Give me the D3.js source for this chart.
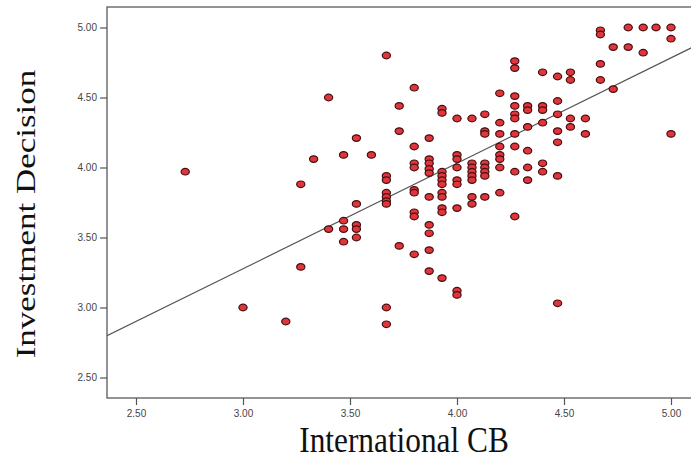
<!DOCTYPE html>
<html>
<head>
<meta charset="utf-8">
<script src="https://cdn.jsdelivr.net/npm/d3@7"></script>
<style>
  html, body { margin: 0; padding: 0; background: #fff; }
  svg { display: block; }
</style>
</head>
<body>
<svg id="chart" width="691" height="459"></svg>
<script>
// ---- data ----
const xTicks = [2.50, 3.00, 3.50, 4.00, 4.50, 5.00];
const yTicks = [2.50, 3.00, 3.50, 4.00, 4.50, 5.00];
const xLabel = "International CB";
const yLabel = "Investment Decision";
const fitIntercept = 1.018;
const fitSlope = 0.753;

const pointX = [
  2.73, 3.00, 3.20, 3.27, 3.27, 3.33, 3.40, 3.40,
  3.47, 3.47, 3.47, 3.47,
  3.53, 3.53, 3.53, 3.53, 3.53,
  3.60,
  3.67, 3.67, 3.67, 3.67, 3.67, 3.67, 3.67, 3.67, 3.67,
  3.73, 3.73, 3.73,
  3.80, 3.80, 3.80, 3.80, 3.80, 3.80, 3.80, 3.80, 3.80,
  3.87, 3.87, 3.87, 3.87, 3.87, 3.87, 3.87, 3.87, 3.87, 3.87,
  3.93, 3.93, 3.93, 3.93, 3.93, 3.93, 3.93, 3.93, 3.93, 3.93, 3.93,
  4.00, 4.00, 4.00, 4.00, 4.00, 4.00, 4.00, 4.00, 4.00,
  4.07, 4.07, 4.07, 4.07, 4.07, 4.07, 4.07, 4.07,
  4.13, 4.13, 4.13, 4.13, 4.13, 4.13, 4.13, 4.13,
  4.20, 4.20, 4.20, 4.20, 4.20, 4.20, 4.20, 4.20,
  4.27, 4.27, 4.27, 4.27, 4.27, 4.27, 4.27, 4.27, 4.27, 4.27,
  4.33, 4.33, 4.33, 4.33, 4.33, 4.33,
  4.40, 4.40, 4.40, 4.40, 4.40, 4.40,
  4.47, 4.47, 4.47, 4.47, 4.47, 4.47, 4.47,
  4.53, 4.53, 4.53, 4.53,
  4.60, 4.60,
  4.67, 4.67, 4.67, 4.67,
  4.73, 4.73,
  4.80, 4.80,
  4.87, 4.87,
  4.93,
  5.00, 5.00, 5.00
];
const pointY = [
  3.97, 3.00, 2.90, 3.29, 3.88, 4.06, 4.50, 3.56,
  4.09, 3.62, 3.56, 3.47,
  4.21, 3.74, 3.59, 3.56, 3.50,
  4.09,
  4.80, 3.94, 3.91, 3.82, 3.79, 3.76, 3.74, 3.00, 2.88,
  4.44, 4.26, 3.44,
  4.57, 4.15, 4.03, 4.00, 3.84, 3.82, 3.68, 3.65, 3.38,
  4.21, 4.06, 4.03, 3.99, 3.96, 3.79, 3.59, 3.53, 3.41, 3.26,
  4.42, 4.39, 3.97, 3.94, 3.91, 3.88, 3.82, 3.79, 3.71, 3.68, 3.21,
  4.35, 4.09, 4.06, 4.00, 3.91, 3.88, 3.71, 3.12, 3.09,
  4.35, 4.03, 4.00, 3.97, 3.94, 3.91, 3.79, 3.74,
  4.38, 4.26, 4.24, 4.03, 4.00, 3.97, 3.94, 3.79,
  4.53, 4.32, 4.24, 4.15, 4.09, 4.06, 4.00, 3.82,
  4.76, 4.71, 4.51, 4.44, 4.38, 4.35, 4.24, 4.15, 3.97, 3.65,
  4.44, 4.41, 4.29, 4.12, 4.00, 3.91,
  4.68, 4.44, 4.41, 4.32, 4.03, 3.97,
  4.65, 4.475, 4.38, 4.26, 4.18, 3.94, 3.03,
  4.68, 4.625, 4.35, 4.29,
  4.35, 4.24,
  4.98, 4.95, 4.74, 4.625,
  4.86, 4.56,
  5.00, 4.86,
  5.00, 4.82,
  5.00,
  5.00, 4.92, 4.24
];

// ---- layout ----
const svg = d3.select("#chart");
const plotLeft = 107, plotTop = 7, plotBottom = 398, plotRight = 720;

const x = d3.scaleLinear().domain([2.5, 5.0]).range([136, 671]);
const y = d3.scaleLinear().domain([2.5, 5.0]).range([377.5, 27.5]);
const xMin = x.invert(plotLeft), xMax = x.invert(plotRight);

// clip for plot area
svg.append("defs").append("clipPath").attr("id", "plotClip")
  .append("rect")
  .attr("x", plotLeft).attr("y", plotTop)
  .attr("width", plotRight - plotLeft).attr("height", plotBottom - plotTop);

// frame
svg.append("rect")
  .attr("x", plotLeft).attr("y", plotTop)
  .attr("width", plotRight - plotLeft).attr("height", plotBottom - plotTop)
  .attr("fill", "none").attr("stroke", "#5a5a5a").attr("stroke-width", 1.3);

// axes
const xAxis = d3.axisBottom(x).tickValues(xTicks).tickFormat(d3.format(".2f")).tickSize(7).tickSizeOuter(0);
const yAxis = d3.axisLeft(y).tickValues(yTicks).tickFormat(d3.format(".2f")).tickSize(7).tickSizeOuter(0);

const gx = svg.append("g").attr("transform", `translate(0,${plotBottom})`).call(xAxis);
const gy = svg.append("g").attr("transform", `translate(${plotLeft},0)`).call(yAxis);
[gx, gy].forEach(g => {
  g.select(".domain").remove();
  g.selectAll(".tick line").attr("stroke", "#555").attr("stroke-width", 1.2);
  g.selectAll(".tick text")
    .attr("fill", "#444")
    .style("font-family", "'Liberation Sans', Arial, sans-serif")
    .style("font-size", "10px");
});
gx.selectAll(".tick text").attr("dy", "0.95em").attr("y", 9);
gy.selectAll(".tick text").attr("x", -10);

// regression line
svg.append("line")
  .attr("clip-path", "url(#plotClip)")
  .attr("x1", x(xMin)).attr("y1", y(fitIntercept + fitSlope * xMin))
  .attr("x2", x(xMax)).attr("y2", y(fitIntercept + fitSlope * xMax))
  .attr("stroke", "#555").attr("stroke-width", 1.2);

// points
const pts = pointX.map((v, i) => ({ x: v, y: pointY[i] }));
svg.append("g").attr("clip-path", "url(#plotClip)")
  .selectAll("ellipse").data(pts).join("ellipse")
  .attr("cx", d => x(d.x)).attr("cy", d => y(d.y))
  .attr("rx", 4.1).attr("ry", 3.3)
  .attr("fill", "#e0353c").attr("stroke", "#451010").attr("stroke-width", 1.2);

// axis titles
svg.append("text")
  .attr("transform", `translate(${(plotLeft + 691) / 2 + 5},452) scale(0.87,1)`)
  .attr("text-anchor", "middle")
  .style("font-family", "'Liberation Serif', 'Times New Roman', serif")
  .style("font-size", "36px")
  .attr("fill", "#111")
  .text(xLabel);

svg.append("text")
  .attr("transform", `translate(35,214) scale(0.8,1) rotate(-90)`)
  .attr("text-anchor", "middle")
  .style("font-family", "'Liberation Serif', 'Times New Roman', serif")
  .style("font-size", "35px")
  .attr("fill", "#111")
  .text(yLabel);
</script>
</body>
</html>
